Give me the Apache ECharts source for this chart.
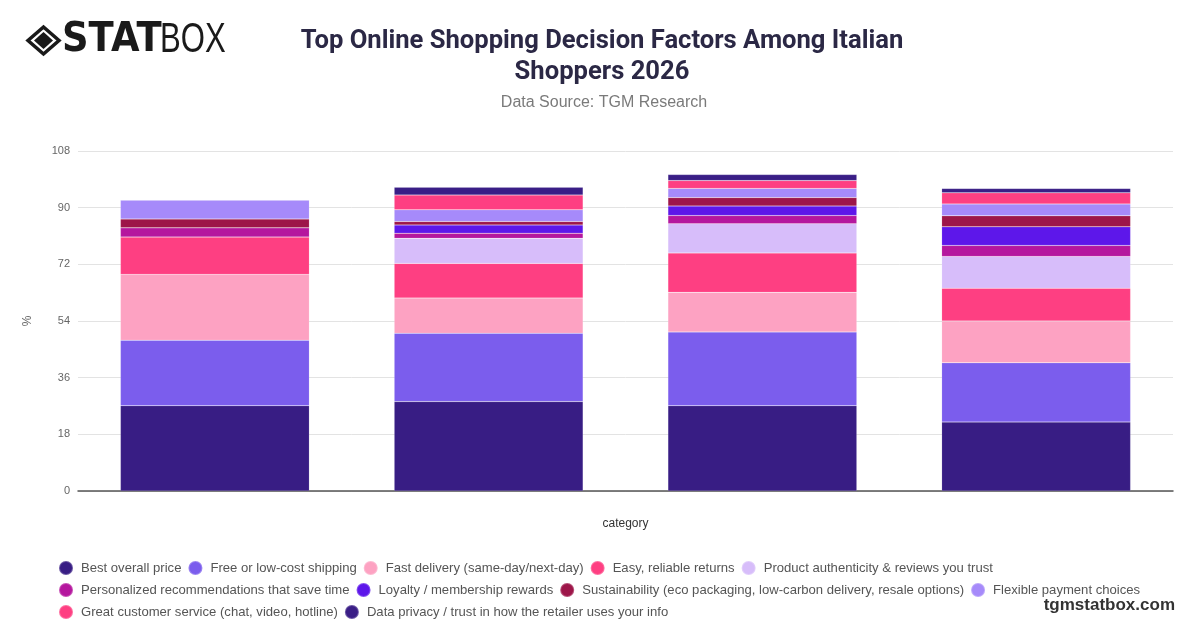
<!DOCTYPE html>
<html>
<head>
<meta charset="utf-8">
<script src="https://cdn.jsdelivr.net/npm/echarts@6/dist/echarts.min.js"></script>
<style>html,body{margin:0;padding:0;background:#fff;}#chart{width:1200px;height:628px;}</style>
</head>
<body>
<div id="chart"></div>
<script>
const categories = ['Group 1', 'Group 2', 'Group 3', 'Group 4'];
const seriesNames = [
  'Best overall price',
  'Free or low-cost shipping',
  'Fast delivery (same-day/next-day)',
  'Easy, reliable returns',
  'Product authenticity & reviews you trust',
  'Personalized recommendations that save time',
  'Loyalty / membership rewards',
  'Sustainability (eco packaging, low-carbon delivery, resale options)',
  'Flexible payment choices',
  'Great customer service (chat, video, hotline)',
  'Data privacy / trust in how the retailer uses your info'
];
const bestPrice      = [27.1, 28.4, 27.1, 21.9];
const freeShipping   = [20.8, 21.7, 23.4, 18.8];
const fastDelivery   = [20.9, 11.2, 12.6, 13.3];
const easyReturns    = [11.9, 11.0, 12.5, 10.4];
const authenticity   = [0, 8.0, 9.3, 10.1];
const personalized   = [2.9, 1.6, 2.6, 3.5];
const loyalty        = [0, 2.6, 3.0, 5.9];
const sustainability = [2.8, 1.1, 2.7, 3.5];
const flexiblePay    = [6.0, 3.7, 2.9, 3.8];
const customerService= [0, 4.7, 2.5, 3.5];
const dataPrivacy    = [0, 2.5, 1.9, 1.4];
const yTicks = [0, 18, 36, 54, 72, 90, 108];

const seriesValues = [bestPrice, freeShipping, fastDelivery, easyReturns, authenticity,
  personalized, loyalty, sustainability, flexiblePay, customerService, dataPrivacy];
const colors = ['#381d84', '#7b5ded', '#fda2c2', '#fe3f82', '#d7bdfa',
  '#b5179e', '#5d17ea', '#9d1649', '#a68afa', '#fe3f82', '#3a1e86'];

const chart = echarts.init(document.getElementById('chart'));
const FONT = '"Liberation Sans", Arial, sans-serif';

chart.setOption({
  animation: false,
  backgroundColor: '#fff',
  color: colors,
  title: [{
    text: 'Top Online Shopping Decision Factors Among Italian\nShoppers 2026',
    left: 597, textAlign: 'center', top: 21,
    textStyle: { fontFamily: 'Roboto', fontWeight: 'bold', fontSize: 25.6, color: '#2b2845', lineHeight: 31 }
  }, {
    text: 'Data Source: TGM Research',
    left: 599, textAlign: 'center', top: 90,
    textStyle: { fontFamily: FONT, fontWeight: 'normal', fontSize: 16, color: '#7a7a7a' }
  }],
  grid: { left: 78, right: 27, top: 151, bottom: 137, containLabel: false },
  xAxis: {
    type: 'category', data: categories,
    name: 'category', nameLocation: 'middle', nameGap: 27,
    nameTextStyle: { fontFamily: FONT, fontSize: 12, color: '#333' },
    axisLabel: { show: false }, axisTick: { show: false },
    axisLine: { lineStyle: { color: '#555', width: 1.5 } }
  },
  yAxis: {
    type: 'value', min: yTicks[0], max: yTicks[yTicks.length - 1], interval: yTicks[1] - yTicks[0],
    name: '%', nameLocation: 'middle', nameGap: 44, nameRotate: 90,
    nameTextStyle: { fontFamily: FONT, fontSize: 12, color: '#666' },
    axisLabel: { fontFamily: FONT, fontSize: 11, color: '#666', margin: 8 },
    axisLine: { show: false }, axisTick: { show: false },
    splitLine: { lineStyle: { color: '#e3e3e3' } }
  },
  legend: {
    left: 53, top: 555, width: 1110,
    icon: 'circle', itemWidth: 20, itemHeight: 14, itemGap: 6,
    textStyle: { fontFamily: FONT, fontSize: 13.1, color: '#555', lineHeight: 14 },
    data: seriesNames
  },
  series: seriesNames.map((n, i) => ({
    name: n, type: 'bar', stack: 'total', barCategoryGap: '31%',
    data: seriesValues[i],
    itemStyle: { borderColor: 'rgba(255,255,255,0.25)', borderWidth: 0.5 }
  })),
  graphic: [
    { type: 'polygon', shape: { points: [[43.5, 27], [59, 40.5], [43.5, 54], [28, 40.5]] },
      style: { fill: 'none', stroke: '#1a1a1a', lineWidth: 3.5 } },
    { type: 'polygon', shape: { points: [[43.5, 32], [53, 40.5], [43.5, 49], [34, 40.5]] },
      style: { fill: '#1a1a1a' } },
    { type: 'text', x: 62, y: 40.5, scaleX: 0.9,
      style: { text: 'STAT', fontFamily: '"DejaVu Sans"', fontWeight: 'bold', fontSize: 41,
        fill: '#1a1a1a', textVerticalAlign: 'middle', verticalAlign: 'middle' } },
    { type: 'text', x: 160, y: 40.5, scaleX: 0.74,
      style: { text: 'BOX', fontFamily: '"Liberation Sans"', fontWeight: 'normal', fontSize: 42,
        fill: '#1a1a1a', textVerticalAlign: 'middle', verticalAlign: 'middle' } },
    { type: 'text', right: 25, top: 597,
      style: { text: 'tgmstatbox.com', fontFamily: FONT, fontWeight: 'bold', fontSize: 17, fill: '#333' } }
  ]
});
</script>
</body>
</html>
